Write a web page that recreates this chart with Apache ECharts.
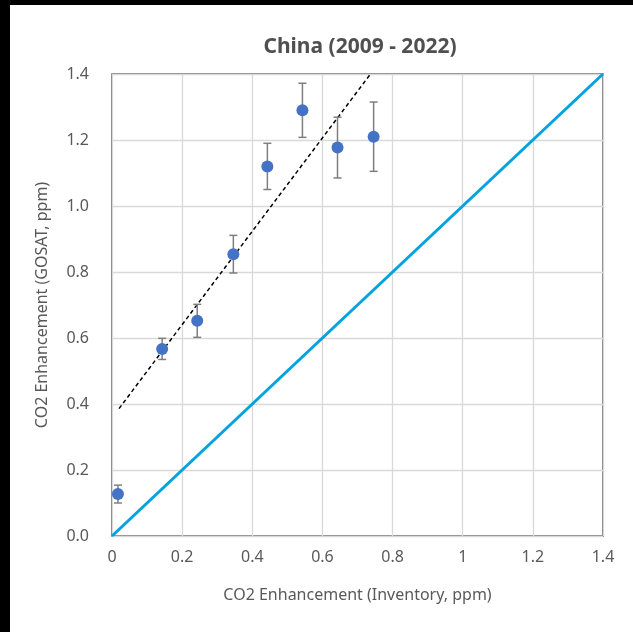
<!DOCTYPE html>
<html>
<head>
<meta charset="utf-8">
<script src="https://cdn.jsdelivr.net/npm/echarts@6/dist/echarts.min.js"></script>
<style>
  html, body { margin: 0; padding: 0; background: #000; width: 633px; height: 632px; overflow: hidden; }
  #chart { position: absolute; left: 10px; top: 5px; width: 623px; height: 627px; background: #fff; }
</style>
</head>
<body>
<div id="chart"></div>
<script>
const titleText = "China (2009 - 2022)";
const xName = "CO2 Enhancement (Inventory, ppm)";
const yName = "CO2 Enhancement (GOSAT, ppm)";
const inventory = [0.017, 0.143, 0.243, 0.346, 0.443, 0.543, 0.643, 0.746];
const gosat =     [0.127, 0.567, 0.652, 0.854, 1.120, 1.290, 1.177, 1.210];
const errors =    [0.027, 0.032, 0.050, 0.057, 0.070, 0.082, 0.092, 0.105];
const trendX = [0.02, 0.737];
const trendY = [0.386, 1.4];
const oneToOneX = [0, 1.4];
const oneToOneY = [0, 1.4];

const chart = echarts.init(document.getElementById('chart'));
const font = 'Noto Sans';
chart.setOption({
  animation: false,
  title: {
    text: titleText, left: 345, top: 27, textAlign: 'center',
    textStyle: { fontFamily: font, fontSize: 21, fontWeight: 'bold', color: '#505050' }
  },
  grid: { left: 102, right: 30, top: 69, bottom: 96, show: true, borderColor: '#595959', borderWidth: 1.5 },
  xAxis: {
    type: 'value', min: 0, max: 1.4, interval: 0.2,
    name: xName, nameLocation: 'middle', nameGap: 51,
    nameTextStyle: { fontFamily: font, fontSize: 16, color: '#595959' },
    axisLine: { show: false }, axisTick: { show: false },
    axisLabel: { fontFamily: font, fontSize: 16, color: '#595959', margin: 13,
      formatter: v => String(Math.round(v * 10) / 10) },
    splitLine: { lineStyle: { color: '#d9d9d9', width: 1.3 } }
  },
  yAxis: {
    type: 'value', min: 0, max: 1.4, interval: 0.2,
    name: yName, nameLocation: 'middle', nameGap: 62,
    nameTextStyle: { fontFamily: font, fontSize: 16, color: '#595959' },
    axisLine: { show: false }, axisTick: { show: false },
    axisLabel: { fontFamily: font, fontSize: 16, color: '#595959', margin: 23,
      formatter: v => v.toFixed(1) },
    splitLine: { lineStyle: { color: '#d9d9d9', width: 1.3 } }
  },
  series: [
    {
      type: 'line', data: oneToOneX.map((x, i) => [x, oneToOneY[i]]),
      symbol: 'none', lineStyle: { color: '#00A2E0', width: 3 }, z: 2
    },
    {
      type: 'line', data: trendX.map((x, i) => [x, trendY[i]]),
      symbol: 'none', lineStyle: { color: '#000', width: 1.5, type: [4, 3] }, z: 3
    },
    {
      type: 'custom',
      data: inventory.map((x, i) => [x, gosat[i] - errors[i], gosat[i] + errors[i]]),
      renderItem: function (params, api) {
        const lo = api.coord([api.value(0), api.value(1)]);
        const hi = api.coord([api.value(0), api.value(2)]);
        const hw = 4;
        const st = { stroke: '#7f7f7f', lineWidth: 1.5 };
        return {
          type: 'group',
          children: [
            { type: 'line', shape: { x1: lo[0], y1: lo[1], x2: hi[0], y2: hi[1] }, style: st },
            { type: 'line', shape: { x1: lo[0] - hw, y1: lo[1], x2: lo[0] + hw, y2: lo[1] }, style: st },
            { type: 'line', shape: { x1: hi[0] - hw, y1: hi[1], x2: hi[0] + hw, y2: hi[1] }, style: st }
          ]
        };
      },
      z: 4
    },
    {
      type: 'scatter', data: inventory.map((x, i) => [x, gosat[i]]),
      symbol: 'circle', symbolSize: 12, itemStyle: { color: '#4472C4', opacity: 1 }, z: 5
    }
  ]
});
</script>
</body>
</html>
